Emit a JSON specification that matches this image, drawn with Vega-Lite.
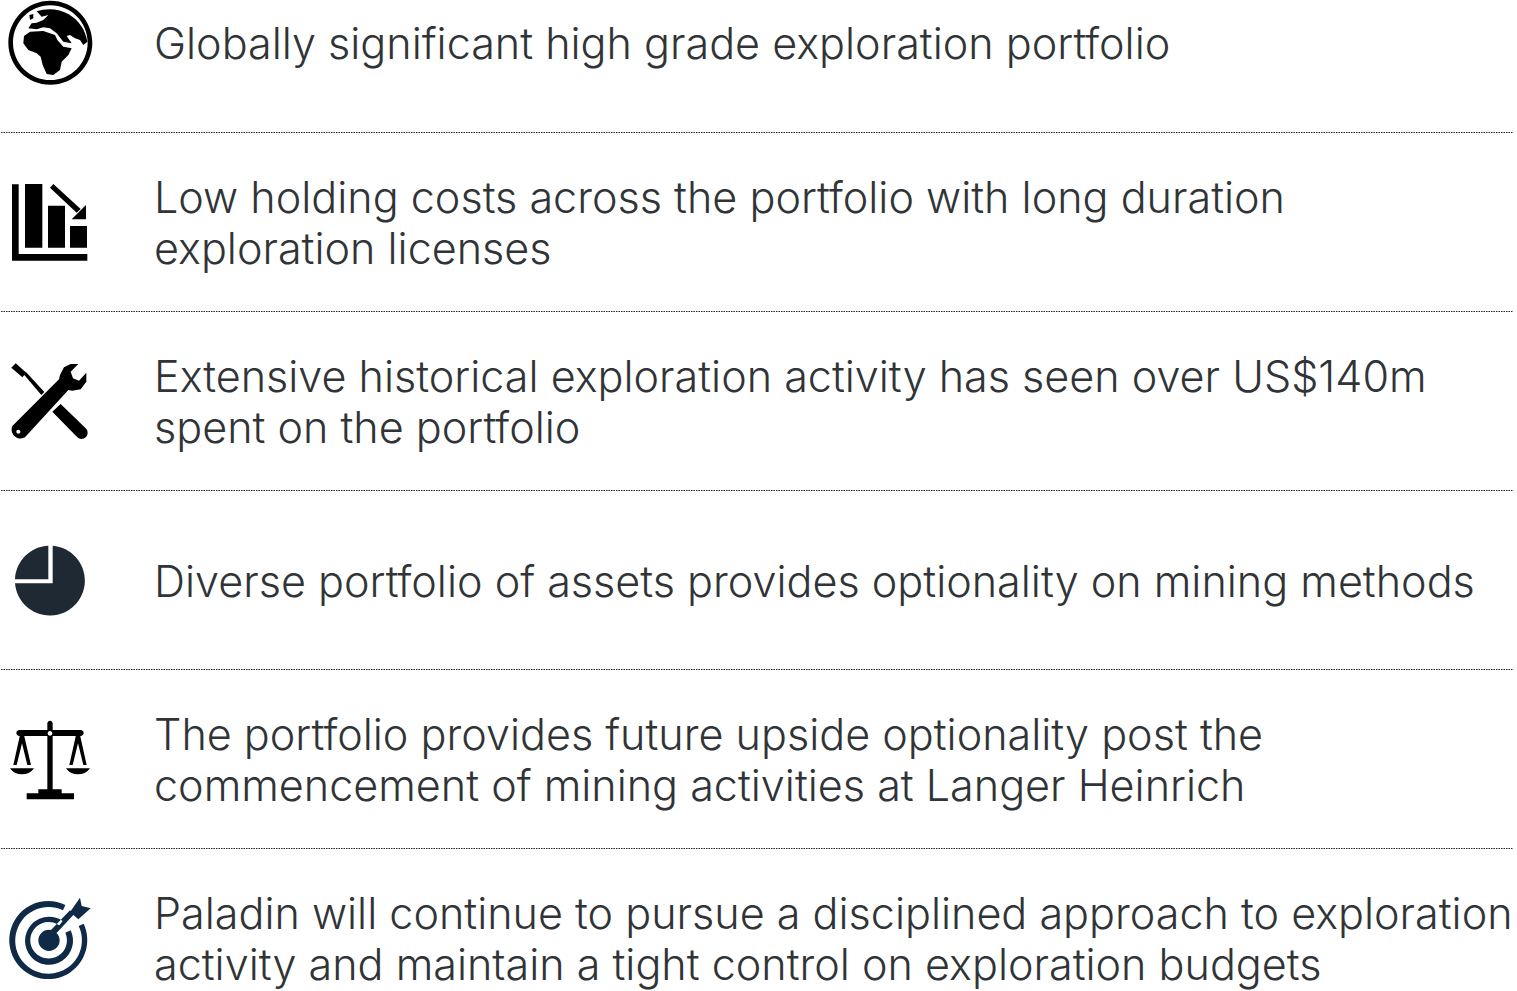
{"$schema":"https://vega.github.io/schema/vega-lite/v6.json","width":1517,"height":991,"autosize":"none","padding":0,"background":"white","view":{"stroke":null},"config":{"axis":{"disable":true}},
"datasets":{
"rules":[{"pos":132.5},{"pos":311.5},{"pos":490.5},{"pos":669.5},{"pos":848.5}],
"lines":[
{"row":1,"baseline":59,"text":"Globally significant high grade exploration portfolio"},
{"row":2,"baseline":213,"text":"Low holding costs across the portfolio with long duration"},
{"row":2,"baseline":264,"text":"exploration licenses"},
{"row":3,"baseline":392,"text":"Extensive historical exploration activity has seen over US$140m"},
{"row":3,"baseline":443,"text":"spent on the portfolio"},
{"row":4,"baseline":597,"text":"Diverse portfolio of assets provides optionality on mining methods"},
{"row":5,"baseline":750,"text":"The portfolio provides future upside optionality post the"},
{"row":5,"baseline":801,"text":"commencement of mining activities at Langer Heinrich"},
{"row":6,"baseline":929,"text":"Paladin will continue to pursue a disciplined approach to exploration"},
{"row":6,"baseline":980,"text":"activity and maintain a tight control on exploration budgets"}],
"icons":[
{"icon":"globe","cy":50},{"icon":"bars","cy":220},{"icon":"tools","cy":400},{"icon":"pie","cy":580},{"icon":"scales","cy":760},{"icon":"target","cy":941}]},
"layer":[
{"data":{"name":"rules"},"mark":{"type":"rule","color":"#222222","strokeWidth":1,"strokeDash":[1.5,1]},
"encoding":{"x":{"datum":1,"type":"quantitative","scale":{"domain":[0,1517],"nice":false,"zero":false},"axis":null},"x2":{"datum":1513},"y":{"field":"pos","type":"quantitative","scale":{"domain":[0,991],"reverse":true,"nice":false,"zero":false},"axis":null}}},
{"data":{"name":"lines"},"mark":{"type":"text","align":"left","baseline":"alphabetic","font":"Inter","fontWeight":300,"fontSize":43.1,"color":"#303437"},
"encoding":{"x":{"datum":154,"type":"quantitative","scale":{"domain":[0,1517],"nice":false,"zero":false},"axis":null},"y":{"field":"baseline","type":"quantitative","scale":{"domain":[0,991],"reverse":true,"nice":false,"zero":false},"axis":null},"text":{"field":"text"}}},
{"data":{"name":"icons"},"mark":{"type":"point","filled":true,"opacity":1,"strokeWidth":0,"size":0.4444},
"encoding":{"x":{"datum":50,"type":"quantitative","scale":{"domain":[0,1517],"nice":false,"zero":false},"axis":null},"y":{"field":"cy","type":"quantitative","scale":{"domain":[0,991],"reverse":true,"nice":false,"zero":false},"axis":null},
"shape":{"field":"icon","type":"nominal","legend":null,"scale":{"domain":["globe","bars","tools","pie","scales","target"],"range":[
"M-125 -22A126 126 0 1 1 127 -22A126 126 0 1 1 -125 -22ZM-111 -22A112 112 0 1 0 113 -22A112 112 0 1 0 -111 -22ZM-78 -42L-60 -55L-20 -57L15 -45L22 -30L40 -10L65 -5L55 15L35 35L30 60L10 75L-10 72L-22 45L-28 20L-40 10L-65 0L-80 -20ZM-40 -116A115 115 0 0 1 112 -25L100 -15L90 -30L75 -35L60 -45L50 -42L65 -20L40 -25L20 -50L0 -65L-20 -68L-40 -62L-65 -65L-55 -80L-40 -82L-20 -90L-5 -105L-25 -100ZM-62 -105L-50 -108L-50 -95L-60 -90Z",
"M-114 -107L-94 -107L-94 102L112 102L112 122L-114 122ZM-75 -108L-23 -108L-23 83L-75 83ZM-6 -43L45 -43L45 83L-6 83ZM60 18L111 18L111 83L60 83ZM10 -108L0 -97L80 -22L92 -33ZM65 -2L108 -2L108 -45Z",
"M-116 -97L-103 -110L-71 -82L-83 -68ZM-79 -77L-72 -84L-17 -24L-26 -15ZM-113 78L27 -62L30 -75L42 -98L62 -108L85 -108L62 -85L69 -65L87 -58L109 -82L109 -55L92 -32L67 -28L55 -30L-75 112A27 27 0 0 1 -113 78ZM-101 95A6 6 0 1 0 -89 95A6 6 0 1 0 -101 95ZM7 35L32 12L107 85A18 18 0 0 1 82 112Z",
"M8 -103A105 105 0 1 1 -105 10L8 10ZM-105 -2A105 105 0 0 1 -5 -103L-5 -2Z",
"M-8 -110A8 8 0 0 1 8 -110L8 -90L92 -90A9 9 0 0 1 92 -72L8 -72L8 90L-8 90L-8 -72L-92 -72A9 9 0 0 1 -92 -90L-8 -90ZM-7 -80A7 7 0 1 0 7 -80A7 7 0 1 0 -7 -80ZM-35 88L35 88L35 100L72 100L72 118L-70 118L-70 100L-35 100ZM-90 -75L-78 -75L-57 15L-68 15L-84 -50L-100 15L-110 15ZM78 -75L90 -75L110 15L100 15L84 -50L68 15L58 15ZM-120 25L-48 25Q-60 43 -84 43Q-108 43 -120 25ZM48 25L120 25Q108 43 84 43Q60 43 48 25Z",
"M46 -108A117 117 0 1 0 101 -52L86 -45A100 100 0 1 1 39 -92ZM38 -60A72 72 0 1 0 62 -32L46 -25A55 55 0 1 1 28 -47ZM-35 -2A32 32 0 1 1 29 -2A32 32 0 1 1 -35 -2ZM0 -30L60 -92L72 -80L12 -16ZM90 -130L95 -105L122 -98L85 -65L60 -87Z"
]}},
"color":{"field":"icon","type":"nominal","legend":null,"scale":{"domain":["globe","bars","tools","pie","scales","target"],"range":["#000000","#000000","#000000","#1f2933","#000000","#0f2a47"]}}}}
]}
